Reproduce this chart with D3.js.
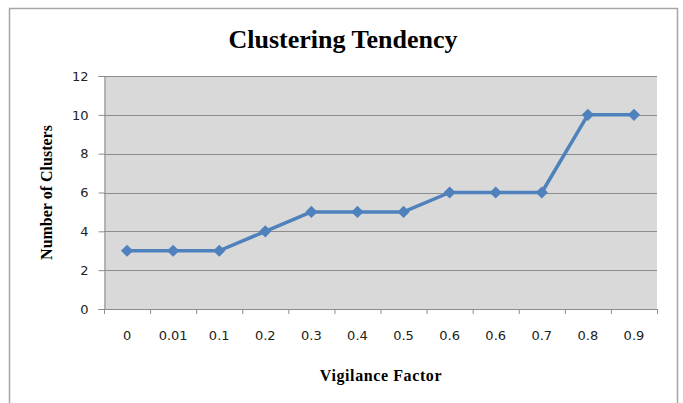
<!DOCTYPE html>
<html>
<head>
<meta charset="utf-8">
<script src="https://cdn.jsdelivr.net/npm/d3@7"></script>
<style>
  body { margin: 0; background: #fff; }
</style>
</head>
<body>
<div id="chart"></div>
<script>
// data
var categories = ["0", "0.01", "0.1", "0.2", "0.3", "0.4", "0.5", "0.6", "0.6", "0.7", "0.8", "0.9"];
var clusters = [3, 3, 3, 4, 5, 5, 5, 6, 6, 6, 10, 10];
var yTicks = [0, 2, 4, 6, 8, 10, 12];

var W = 683, H = 403;
var margin = {top: 76, right: 26, bottom: 94, left: 104},
    width = 657 - margin.left,
    height = 309 - margin.top;

var svg = d3.select("#chart").append("svg")
    .attr("width", W)
    .attr("height", H);

// outer frame
svg.append("rect")
    .attr("x", 9.5).attr("y", 8.5)
    .attr("width", 668).attr("height", 400)
    .attr("fill", "#fff")
    .attr("stroke", "#a6a6a6")
    .attr("stroke-width", 1.5);

svg.append("text")
    .attr("x", 343).attr("y", 48)
    .attr("text-anchor", "middle")
    .style("font-family", "Liberation Serif, Times New Roman, serif")
    .style("font-weight", "bold")
    .style("font-size", "26px")
    .text("Clustering Tendency");

var g = svg.append("g")
    .attr("transform", "translate(" + margin.left + "," + margin.top + ")");

var idx = categories.map(function (d, i) { return i; });
var x = d3.scaleBand().domain(idx).range([0, width]);
var y = d3.scaleLinear().domain([0, 12]).range([height, 0]);

g.append("rect")
    .attr("width", width).attr("height", height)
    .attr("fill", "#d9d9d9");

// gridlines
g.selectAll(".grid")
    .data(yTicks.slice(1))
    .enter().append("line")
    .attr("x1", 0).attr("x2", width)
    .attr("y1", function (d) { return Math.round(y(d)) + 0.5; })
    .attr("y2", function (d) { return Math.round(y(d)) + 0.5; })
    .attr("stroke", "#8c8c8c")
    .attr("stroke-width", 1.2);

// y axis
var yAxis = g.append("g")
    .attr("transform", "translate(0.5,0)")
    .call(d3.axisLeft(y).tickValues(yTicks).tickSize(6).tickPadding(10));
yAxis.selectAll("line, path").attr("stroke", "#8c8c8c");
yAxis.selectAll("text")
    .style("font-family", "DejaVu Sans, Verdana, sans-serif")
    .style("font-size", "13px")
    .attr("fill", "#222");

// x axis
var xAxis = g.append("g")
    .attr("transform", "translate(0," + (height + 0.5) + ")")
    .call(d3.axisBottom(x).tickSize(0).tickPadding(0).tickFormat(function (i) { return categories[i]; }));
xAxis.select("path").attr("stroke", "#8c8c8c").attr("d", "M0,0H" + width);
xAxis.selectAll("text")
    .attr("y", 26).attr("dy", "0.32em")
    .style("font-family", "DejaVu Sans, Verdana, sans-serif")
    .style("font-size", "13px")
    .attr("fill", "#222");

// category boundary ticks
g.selectAll(".xtick")
    .data(d3.range(categories.length + 1))
    .enter().append("line")
    .attr("x1", function (i) { return i * x.step() + 0.5; })
    .attr("x2", function (i) { return i * x.step() + 0.5; })
    .attr("y1", height).attr("y2", height + 5)
    .attr("stroke", "#8c8c8c");

var line = d3.line()
    .x(function (d, i) { return x(i) + x.bandwidth() / 2; })
    .y(function (d) { return y(d); });

g.append("path")
    .datum(clusters)
    .attr("d", line)
    .attr("fill", "none")
    .attr("stroke", "#4f81bd")
    .attr("stroke-width", 3.5)
    .attr("stroke-linejoin", "round");

g.selectAll(".pt")
    .data(clusters)
    .enter().append("path")
    .attr("d", d3.symbol().type(d3.symbolDiamond2).size(95))
    .attr("transform", function (d, i) {
        return "translate(" + (x(i) + x.bandwidth() / 2) + "," + y(d) + ")";
    })
    .attr("fill", "#4f81bd");

// axis titles
svg.append("text")
    .attr("transform", "translate(52," + (margin.top + height / 2) + ") rotate(-90)")
    .attr("text-anchor", "middle")
    .style("font-family", "Liberation Serif, Times New Roman, serif")
    .style("font-weight", "bold")
    .style("font-size", "16px")
    .text("Number of Clusters");

svg.append("text")
    .attr("x", 381).attr("y", 381)
    .attr("text-anchor", "middle")
    .style("font-family", "Liberation Serif, Times New Roman, serif")
    .style("font-weight", "bold")
    .style("font-size", "16px")
    .style("letter-spacing", "0.6px")
    .text("Vigilance Factor");
</script>
</body>
</html>
